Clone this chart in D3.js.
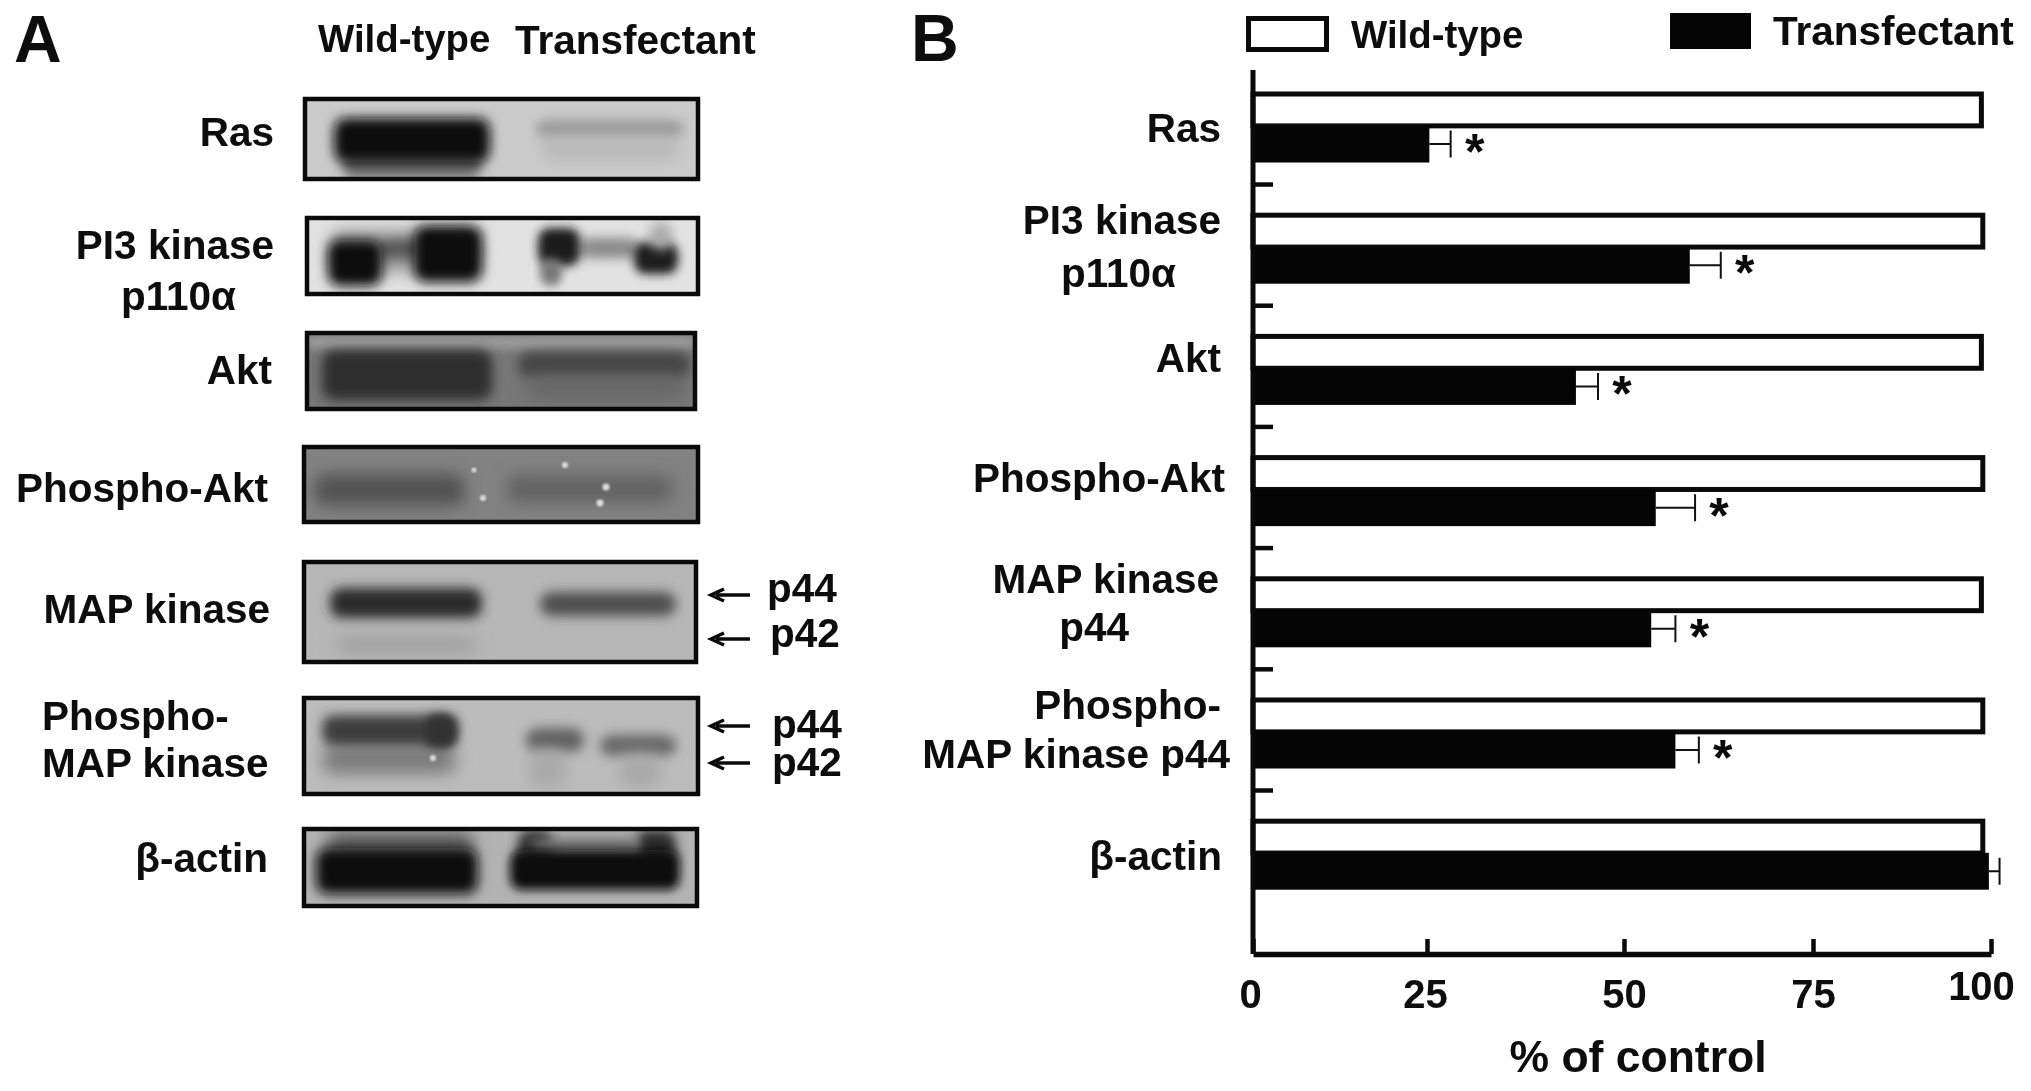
<!DOCTYPE html>
<html>
<head>
<meta charset="utf-8">
<style>
	html, body { margin: 0; padding: 0; background: #fff; }
	svg { display: block; }
	text { font-family: "Liberation Sans", Arial, sans-serif; font-weight: bold; fill: #0a0a0a; }
</style>
<script src="https://cdn.jsdelivr.net/npm/d3@7"></script>
</head>
<body>
<svg id="chart" width="2031" height="1091"></svg>
<script>
// chart values
const categories = ['Ras', 'PI3 kinase p110α', 'Akt', 'Phospho-Akt', 'MAP kinase p44', 'Phospho-MAP kinase p44', 'β-actin'];
const series = ['Wild-type', 'Transfectant'];
const wildType = [99, 99.2, 99, 99.2, 99, 99.2, 99.2];
const transfectant = [25.3, 58.7, 43.9, 54.2, 53.6, 56.8, 99.7];
const transfectantErr = [2.7, 4.1, 2.8, 5.2, 3.2, 3.1, 1.5];
const significant = [true, true, true, true, true, true, false];
const xTicks = [0, 25, 50, 75, 100];
const xTitle = '% of control';

// text labels, [text, x, baseline, anchor]
const panelLabels = [
	['A', 14, 62, 'start'], ['B', 911, 61, 'start']
];
const blotLabels = [
	['Ras', 274, 146, 'end'], ['PI3 kinase', 274, 259, 'end'], ['p110α', 236, 310, 'end'],
	['Akt', 272, 384, 'end'], ['Phospho-Akt', 268, 502, 'end'], ['MAP kinase', 270, 623, 'end'],
	['Phospho-', 42, 730, 'start'], ['MAP kinase', 42, 777, 'start'], ['β-actin', 268, 872, 'end'],
	['p44', 767, 602, 'start'], ['p42', 770, 647, 'start'], ['p44', 772, 738, 'start'], ['p42', 772, 776, 'start'],
	['Transfectant', 515, 54, 'start']
];
const barLabels = [
	['Ras', 1221, 142, 'end'], ['PI3 kinase', 1221, 234, 'end'], ['p110α', 1176, 287, 'end'],
	['Akt', 1221, 372, 'end'], ['Phospho-Akt', 1225, 492, 'end'], ['MAP kinase', 1219, 593, 'end'],
	['p44', 1129, 641, 'end'], ['Phospho-', 1221, 719, 'end'], ['MAP kinase p44', 1230, 768, 'end'],
	['β-actin', 1222, 870, 'end']
];
const arrowRows = [595, 639, 726, 763];

// gel strips: box [x0, y0, x1, y1], background and blurred smears [x0, y0, x1, y1, fill, blur]
const blots = [
	{ box: [303, 97, 700, 181], bg: '#cbcbcb', smears: [
		[342, 150, 482, 178, '#666', 6], [334, 118, 490, 162, '#111', 6],
		[536, 120, 684, 138, '#999', 6], [540, 138, 680, 160, '#b7b7b7', 8]
	] },
	{ box: [305, 216, 700, 296], bg: '#e2e2e2', smears: [
		[330, 230, 480, 272, '#999', 8], [378, 240, 420, 258, '#555', 6],
		[328, 240, 382, 286, '#101010', 6], [414, 226, 482, 282, '#0c0c0c', 6],
		[578, 238, 640, 258, '#888', 6], [538, 228, 580, 266, '#1a1a1a', 5], [540, 258, 562, 286, '#777', 5],
		[634, 242, 678, 274, '#1c1c1c', 5], [650, 222, 672, 250, '#aaa', 6]
	] },
	{ box: [305, 331, 697, 411], bg: '#777', smears: [
		[305, 336, 697, 349, '#9c9c9c', 4], [322, 350, 492, 400, '#2e2e2e', 6],
		[518, 352, 690, 378, '#444', 6], [525, 376, 686, 398, '#666', 8]
	] },
	{ box: [302, 445, 700, 524], bg: '#828282', smears: [
		[314, 474, 465, 506, '#525252', 8], [506, 475, 673, 503, '#646464', 8]
	], specks: [[565, 465, 3], [474, 470, 2.5], [483, 498, 3], [606, 487, 3.5], [600, 503, 3.5]] },
	{ box: [302, 560, 698, 664], bg: '#b7b7b7', smears: [
		[330, 588, 482, 618, '#2c2c2c', 6], [540, 592, 676, 616, '#505050', 6], [335, 635, 477, 654, '#a2a2a2', 8]
	] },
	{ box: [302, 696, 700, 796], bg: '#bcbcbc', smears: [
		[322, 746, 456, 774, '#7c7c7c', 8], [322, 715, 458, 746, '#3e3e3e', 6], [425, 714, 456, 748, '#333', 5],
		[526, 728, 584, 752, '#626262', 6], [600, 735, 676, 756, '#686868', 6],
		[530, 750, 565, 788, '#a8a8a8', 8], [620, 755, 660, 788, '#a8a8a8', 8]
	], specks: [[433, 758, 3]] },
	{ box: [302, 827, 699, 908], bg: '#b3b3b3', smears: [
		[326, 832, 474, 854, '#5c5c5c', 8], [316, 848, 478, 894, '#080808', 6],
		[518, 830, 552, 862, '#2a2a2a', 6], [636, 830, 676, 862, '#2a2a2a', 6], [530, 838, 640, 854, '#707070', 6],
		[510, 850, 680, 890, '#080808', 5]
	] }
];

const svg = d3.select('#chart');
const defs = svg.append('defs');

[4, 5, 6, 8].forEach(function(s) {
	defs.append('filter')
		.attr('id', 'blur' + s)
		.attr('x', '-30%').attr('y', '-80%').attr('width', '160%').attr('height', '260%')
		.append('feGaussianBlur').attr('stdDeviation', s);
});
defs.append('filter').attr('id', 'textSoft')
	.append('feGaussianBlur').attr('stdDeviation', 0.7);
defs.append('filter').attr('id', 'speckSoft')
	.append('feGaussianBlur').attr('stdDeviation', 1);

function addText(rows, size) {
	svg.append('g')
		.attr('filter', 'url(#textSoft)')
		.selectAll('text')
		.data(rows)
		.enter().append('text')
		.attr('x', function(d) { return d[1]; })
		.attr('y', function(d) { return d[2]; })
		.attr('text-anchor', function(d) { return d[3]; })
		.attr('font-size', size)
		.text(function(d) { return d[0]; });
}

// panel A
blots.forEach(function(b, i) {
	const w = b.box[2] - b.box[0];
	const h = b.box[3] - b.box[1];
	defs.append('clipPath').attr('id', 'clip-' + i)
		.append('rect').attr('x', b.box[0]).attr('y', b.box[1]).attr('width', w).attr('height', h);
	const g = svg.append('g').attr('clip-path', 'url(#clip-' + i + ')');
	g.append('rect')
		.attr('x', b.box[0]).attr('y', b.box[1]).attr('width', w).attr('height', h)
		.attr('fill', b.bg);
	g.selectAll('.smear')
		.data(b.smears)
		.enter().append('rect')
		.attr('class', 'smear')
		.attr('x', function(d) { return d[0]; })
		.attr('y', function(d) { return d[1]; })
		.attr('width', function(d) { return d[2] - d[0]; })
		.attr('height', function(d) { return d[3] - d[1]; })
		.attr('rx', 12)
		.attr('fill', function(d) { return d[4]; })
		.attr('filter', function(d) { return 'url(#blur' + d[5] + ')'; });
	g.selectAll('.speck')
		.data(b.specks || [])
		.enter().append('circle')
		.attr('class', 'speck')
		.attr('cx', function(d) { return d[0]; })
		.attr('cy', function(d) { return d[1]; })
		.attr('r', function(d) { return d[2]; })
		.attr('fill', '#ddd')
		.attr('filter', 'url(#speckSoft)');
	svg.append('rect')
		.attr('x', b.box[0] + 2).attr('y', b.box[1] + 2).attr('width', w - 4).attr('height', h - 4)
		.attr('fill', 'none').attr('stroke', '#0a0a0a').attr('stroke-width', 4.5);
});

addText(panelLabels, 66);
addText([['Wild-type', 318, 52, 'start']], 38.4);
addText(blotLabels, 40.5);

svg.append('g').selectAll('path')
	.data(arrowRows)
	.enter().append('path')
	.attr('d', function(d) {
		return 'M750,' + d + 'H716M724,' + (d - 6) + 'L711,' + d + 'L724,' + (d + 6);
	})
	.attr('fill', 'none')
	.attr('stroke', '#0a0a0a')
	.attr('stroke-width', 3.5);

// panel B
const x = d3.scaleLinear()
	.domain(xTicks)
	.range([1253, 1427, 1624, 1813, 1991]);

const y = d3.scaleBand()
	.domain(categories)
	.range([91.5, 889.7])
	.paddingInner(0.414);

const yInner = d3.scaleBand()
	.domain(series)
	.range([0, y.bandwidth()])
	.paddingInner(-0.08);

const rows = svg.append('g').selectAll('g')
	.data(categories)
	.enter().append('g')
	.attr('transform', function(d) { return 'translate(0,' + y(d) + ')'; });

rows.append('rect')
	.attr('x', x(0))
	.attr('y', yInner('Wild-type') + 2.5)
	.attr('width', function(d, i) { return x(wildType[i]) - x(0) - 2.5; })
	.attr('height', yInner.bandwidth() - 5)
	.attr('fill', '#fff')
	.attr('stroke', '#0a0a0a')
	.attr('stroke-width', 5);

rows.append('rect')
	.attr('x', x(0))
	.attr('y', yInner('Transfectant'))
	.attr('width', function(d, i) { return x(transfectant[i]) - x(0); })
	.attr('height', yInner.bandwidth())
	.attr('fill', '#050505');

const barMid = yInner('Transfectant') + yInner.bandwidth() / 2;

rows.append('path')
	.attr('d', function(d, i) {
		const x0 = x(transfectant[i]);
		const x1 = x(transfectant[i] + transfectantErr[i]);
		return 'M' + x0 + ',' + barMid + 'H' + x1 + 'M' + x1 + ',' + (barMid - 13.5) + 'V' + (barMid + 13.5);
	})
	.attr('fill', 'none')
	.attr('stroke', '#111')
	.attr('stroke-width', 2);

rows.filter(function(d, i) { return significant[i]; })
	.append('text')
	.attr('x', function(d) {
		const i = categories.indexOf(d);
		return x(transfectant[i] + transfectantErr[i]) + 24;
	})
	.attr('y', barMid + 25)
	.attr('text-anchor', 'middle')
	.attr('font-size', 50)
	.text('*');

// small ticks between the rows
svg.append('g').selectAll('line')
	.data(categories.slice(0, -1))
	.enter().append('line')
	.attr('x1', x(0))
	.attr('x2', x(0) + 20)
	.attr('y1', function(d) { return y(d) + y.bandwidth() + 22; })
	.attr('y2', function(d) { return y(d) + y.bandwidth() + 22; })
	.attr('stroke', '#0a0a0a')
	.attr('stroke-width', 4.5);

svg.append('line')
	.attr('x1', x(0)).attr('x2', x(0))
	.attr('y1', 70).attr('y2', 954)
	.attr('stroke', '#0a0a0a')
	.attr('stroke-width', 5);

const xAxis = svg.append('g')
	.attr('transform', 'translate(0,954)')
	.call(d3.axisBottom(x).tickValues(xTicks).tickSize(-15).tickPadding(42).tickSizeOuter(0));

xAxis.attr('font-family', null);
xAxis.select('.domain').attr('stroke', '#0a0a0a').attr('stroke-width', 5.5);
xAxis.selectAll('.tick line').attr('stroke', '#0a0a0a').attr('stroke-width', 4.5);
xAxis.selectAll('.tick text')
	.attr('font-size', 40)
	.attr('fill', '#0a0a0a')
	.attr('filter', 'url(#textSoft)')
	.attr('dx', function(d) { return d === 100 ? -10 : d === 25 ? -2 : d === 0 ? -3 : 0; })
	.attr('dy', function(d) { return d === 100 ? '0.1em' : '0.3em'; });

svg.append('text')
	.attr('x', 1638)
	.attr('y', 1072)
	.attr('text-anchor', 'middle')
	.attr('font-size', 44.5)
	.attr('filter', 'url(#textSoft)')
	.text(xTitle);

addText(barLabels, 40.5);

// legend
svg.append('rect')
	.attr('x', 1248.5).attr('y', 18.5).attr('width', 78).attr('height', 31)
	.attr('fill', '#fff').attr('stroke', '#0a0a0a').attr('stroke-width', 5);
svg.append('rect')
	.attr('x', 1670).attr('y', 13).attr('width', 81).attr('height', 36)
	.attr('fill', '#050505');
addText([[series[0], 1351, 48, 'start']], 38.4);
addText([[series[1], 1773, 45, 'start']], 40.5);
</script>
</body>
</html>
